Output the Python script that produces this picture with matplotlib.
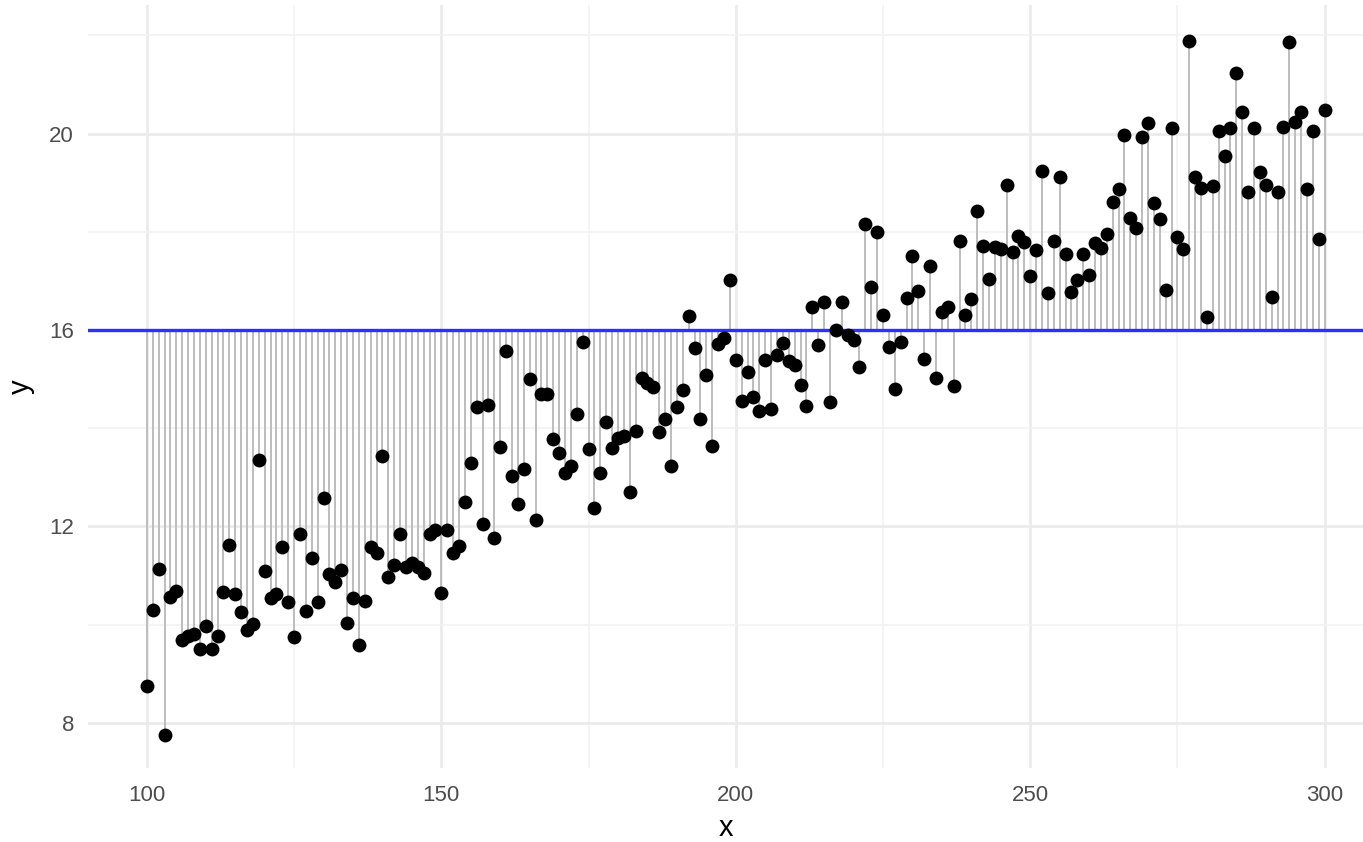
import numpy as np
import matplotlib
matplotlib.use("Agg")
import matplotlib.pyplot as plt
from matplotlib.ticker import MultipleLocator

plt.rcParams['font.family'] = ['Liberation Sans', 'DejaVu Sans']

# Data
x = np.arange(100, 301)
y = [
    8.75, 10.30, 11.13, 7.75, 10.56, 10.68, 9.69, 9.77, 9.81, 9.50,
    9.97, 9.50, 9.77, 10.66, 11.62, 10.62, 10.26, 9.89, 10.01, 13.35,
    11.09, 10.54, 10.62, 11.58, 10.46, 9.75, 11.85, 10.28, 11.36, 10.46,
    12.58, 11.03, 10.87, 11.11, 10.03, 10.54, 9.58, 10.48, 11.58, 11.46,
    13.43, 10.97, 11.21, 11.85, 11.17, 11.25, 11.17, 11.05, 11.85, 11.93,
    10.64, 11.93, 11.46, 11.60, 12.50, 13.29, 14.43, 12.05, 14.47, 11.76,
    13.62, 15.57, 13.03, 12.46, 13.17, 15.00, 12.13, 14.70, 14.70, 13.78,
    13.50, 13.09, 13.23, 14.29, 15.76, 13.58, 12.38, 13.09, 14.13, 13.60,
    13.80, 13.84, 12.70, 13.94, 15.02, 14.92, 14.84, 13.92, 14.19, 13.23,
    14.43, 14.78, 16.29, 15.63, 14.19, 15.08, 13.64, 15.71, 15.84, 17.02,
    15.39, 14.55, 15.14, 14.64, 14.36, 15.39, 14.39, 15.49, 15.74, 15.37,
    15.29, 14.88, 14.45, 16.47, 15.69, 16.57, 14.53, 16.00, 16.57, 15.90,
    15.80, 15.25, 18.16, 16.88, 17.99, 16.31, 15.65, 14.80, 15.76, 16.65,
    17.51, 16.79, 15.41, 17.30, 15.02, 16.37, 16.47, 14.86, 17.81, 16.31,
    16.63, 18.42, 17.71, 17.04, 17.69, 17.65, 18.95, 17.59, 17.91, 17.79,
    17.10, 17.63, 19.24, 16.75, 17.81, 19.12, 17.55, 16.77, 17.02, 17.55,
    17.12, 17.77, 17.67, 17.96, 18.61, 18.87, 19.97, 18.28, 18.08, 19.93,
    20.22, 18.59, 18.26, 16.81, 20.11, 17.89, 17.65, 21.89, 19.12, 18.89,
    16.26, 18.93, 20.05, 19.55, 20.11, 21.23, 20.44, 18.81, 20.11, 19.22,
    18.95, 16.67, 18.81, 20.13, 21.87, 20.24, 20.44, 18.87, 20.05, 17.85,
    20.48,
]
baseline = 16

fig = plt.figure(figsize=(13.63, 8.42), dpi=100)
ax = fig.add_axes([88/1363, 74/842, 1 - 88/1363, 763/842])

# grille façon theme_minimal
ax.xaxis.set_major_locator(MultipleLocator(50))
ax.xaxis.set_minor_locator(MultipleLocator(25))
ax.yaxis.set_major_locator(MultipleLocator(4))
ax.yaxis.set_minor_locator(MultipleLocator(2))
ax.grid(which='major', color='#ebebeb', lw=2.0, zorder=0)
ax.grid(which='minor', color='#f2f2f2', lw=1.2, zorder=0)
ax.set_axisbelow(True)

# segments, ligne de référence, points
ax.vlines(x, baseline, y, color='#bdbdbd', lw=1.4, zorder=1)
ax.axhline(baseline, color='#2e2eff', lw=2.4, zorder=2)
ax.scatter(x, y, s=100, color='black', zorder=3, linewidths=0)

ax.set_xlim(90, 306.5)
ax.set_ylim(7.08, 22.62)

for s in ax.spines.values():
    s.set_visible(False)
ax.tick_params(which='both', length=0)
ax.tick_params(axis='x', labelsize=16, labelcolor='#4d4d4d', pad=12)
ax.tick_params(axis='y', labelsize=16, labelcolor='#4d4d4d', pad=10)

ax.set_xlabel('x', fontsize=21, labelpad=6)
ax.set_ylabel('y', fontsize=21, labelpad=10)

fig.savefig('out.png', dpi=100)
